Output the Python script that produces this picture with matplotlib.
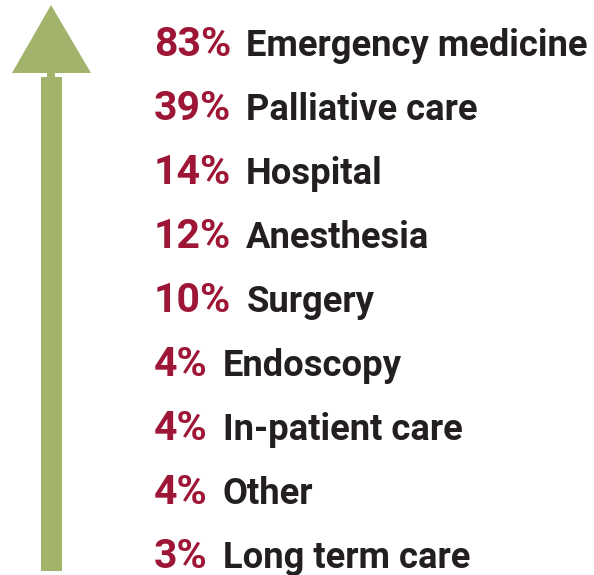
import matplotlib

matplotlib.use("Agg")
import matplotlib.pyplot as plt
from matplotlib.patches import Polygon, Rectangle

# data, top to bottom
shares = [83, 39, 14, 12, 10, 4, 4, 4, 3]
settings = [
    "Emergency medicine",
    "Palliative care",
    "Hospital",
    "Anesthesia",
    "Surgery",
    "Endoscopy",
    "In-patient care",
    "Other",
    "Long term care",
]

RED = "#9E1636"
DARK = "#231F20"
GREEN = "#A2B36B"

W, H = 594, 575
fig = plt.figure(figsize=(W / 100, H / 100), dpi=100)
ax = fig.add_axes([0, 0, 1, 1])
ax.set_xlim(0, W)
ax.set_ylim(H, 0)
ax.axis("off")

# arrow (decoration): head, small neck, shaft
ax.add_patch(Polygon([(12, 73), (91, 73), (51, 5)], closed=True, color=GREEN, lw=0))
ax.add_patch(Rectangle((47, 72), 8, 6, color=GREEN, lw=0))
ax.add_patch(Rectangle((41, 77), 21, 494, color=GREEN, lw=0))

x0, y0, step = 154, 56.5, 64
pct_texts = []
for i, (v, name) in enumerate(zip(shares, settings)):
    y = y0 + i * step
    t = ax.text(x0, y, f"{v}%", color=RED, fontsize=29.5, fontweight="bold",
                family=["Roboto", "DejaVu Sans"], va="baseline", ha="left")
    pct_texts.append((t, y, name))

fig.canvas.draw()
renderer = fig.canvas.get_renderer()
inv = ax.transData.inverted()
for t, y, name in pct_texts:
    bb = t.get_window_extent(renderer)
    xr = inv.transform((bb.x1, bb.y0))[0]
    ax.text(xr + 15, y, name, color=DARK, fontsize=26.2, fontweight="bold",
            family=["Roboto", "DejaVu Sans"], va="baseline", ha="left")

fig.savefig("out.png", dpi=100)
